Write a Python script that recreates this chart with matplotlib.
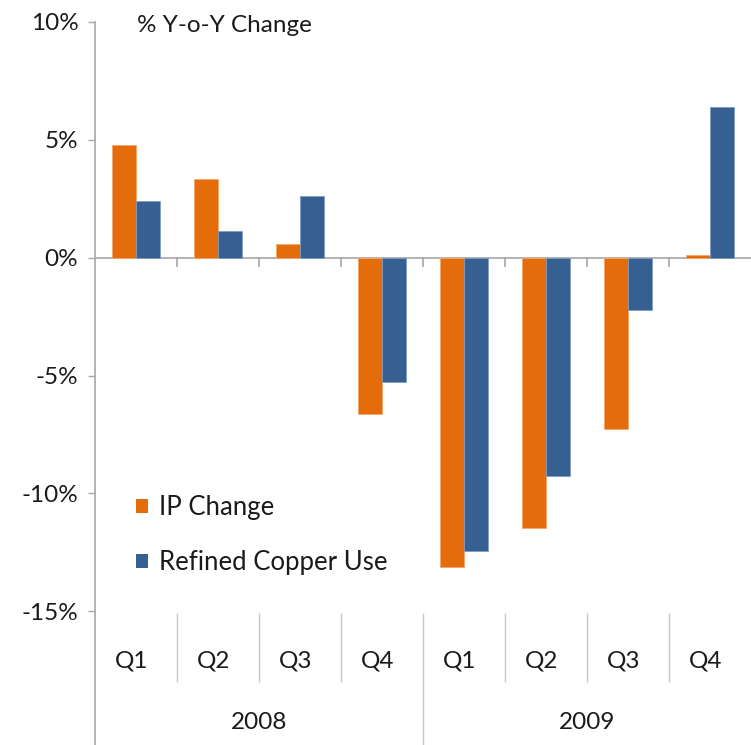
import matplotlib

matplotlib.use("Agg")
import matplotlib.pyplot as plt
import numpy as np
from matplotlib.patches import Patch

quarters = ["Q1", "Q2", "Q3", "Q4", "Q1", "Q2", "Q3", "Q4"]
years = ["2008", "2009"]
ip_change = [4.77, 3.32, 0.58, -6.63, -13.13, -11.45, -7.27, 0.1]
copper_use = [2.42, 1.12, 2.63, -5.27, -12.45, -9.25, -2.2, 6.38]
y_ticks = [-15, -10, -5, 0, 5, 10]

ORANGE = "#E46C0A"
BLUE = "#376092"
AXIS_GREY = "#A6A6A6"
TEXT = "#1a1a1a"
FS = 17.5

plt.rcParams["font.family"] = ["Lato", "DejaVu Sans"]

fig = plt.figure(figsize=(7.51, 7.45), dpi=100)
ax = fig.add_axes([95 / 751, 0.0, 656 / 751, 723 / 745])

x = np.arange(len(quarters))
bar_w = 0.29
ax.bar(x - bar_w / 2, ip_change, width=bar_w, color=ORANGE,
       edgecolor="#F3A66A", linewidth=0.6, zorder=3)
ax.bar(x + bar_w / 2, copper_use, width=bar_w, color=BLUE,
       edgecolor="#7F9CC0", linewidth=0.6, zorder=3)

ax.set_xlim(-0.5, len(quarters) - 0.5)
ax.set_ylim(-20.67, 10)
ax.set_yticks(y_ticks)
ax.set_yticklabels([f"{t}%" for t in y_ticks])
ax.tick_params(axis="y", direction="out", length=5, width=1, color=AXIS_GREY,
               labelsize=FS, labelcolor=TEXT, pad=7)
ax.set_xticks([])

for side in ("top", "right", "bottom"):
    ax.spines[side].set_visible(False)
ax.spines["left"].set_color(AXIS_GREY)
ax.spines["left"].set_linewidth(1.2)

# horizontal zero line with category ticks
ax.axhline(0, color=AXIS_GREY, linewidth=1.2, zorder=2)
bounds = np.arange(len(quarters) - 1) + 0.5
ax.vlines(bounds, -0.38, 0, color=AXIS_GREY, linewidth=1.2, zorder=2)

# multi-level category axis below the plot
n_per_year = len(quarters) // len(years)
for b in bounds:
    if (b + 0.5) % n_per_year == 0:
        ax.vlines(b, -20.67, -15.05, color="#C8C8C8", linewidth=1.0)
    else:
        ax.vlines(b, -18.0, -15.05, color="#C8C8C8", linewidth=1.0)
for xi, q in zip(x, quarters):
    ax.text(xi - 0.05, -17.1, q, ha="center", va="center", fontsize=FS, color=TEXT)
for i, yr in enumerate(years):
    ax.text(i * n_per_year + (n_per_year - 1) / 2, -19.72, yr, ha="center",
            va="center", fontsize=FS, color=TEXT)

ax.text(0.064, 0.995, "% Y-o-Y Change", transform=ax.transAxes,
        ha="left", va="center", fontsize=FS, color=TEXT)

handles = [Patch(facecolor=ORANGE, label="IP Change"),
           Patch(facecolor=BLUE, label="Refined Copper Use")]
ax.legend(handles=handles, loc="upper left", bbox_to_anchor=(0.062, 0.346),
          frameon=False, fontsize=18.5, handlelength=0.48, handleheight=0.48,
          handletextpad=0.42, labelspacing=1.17, borderpad=0, borderaxespad=0,
          labelcolor=TEXT)

fig.savefig("out.png", dpi=100)
